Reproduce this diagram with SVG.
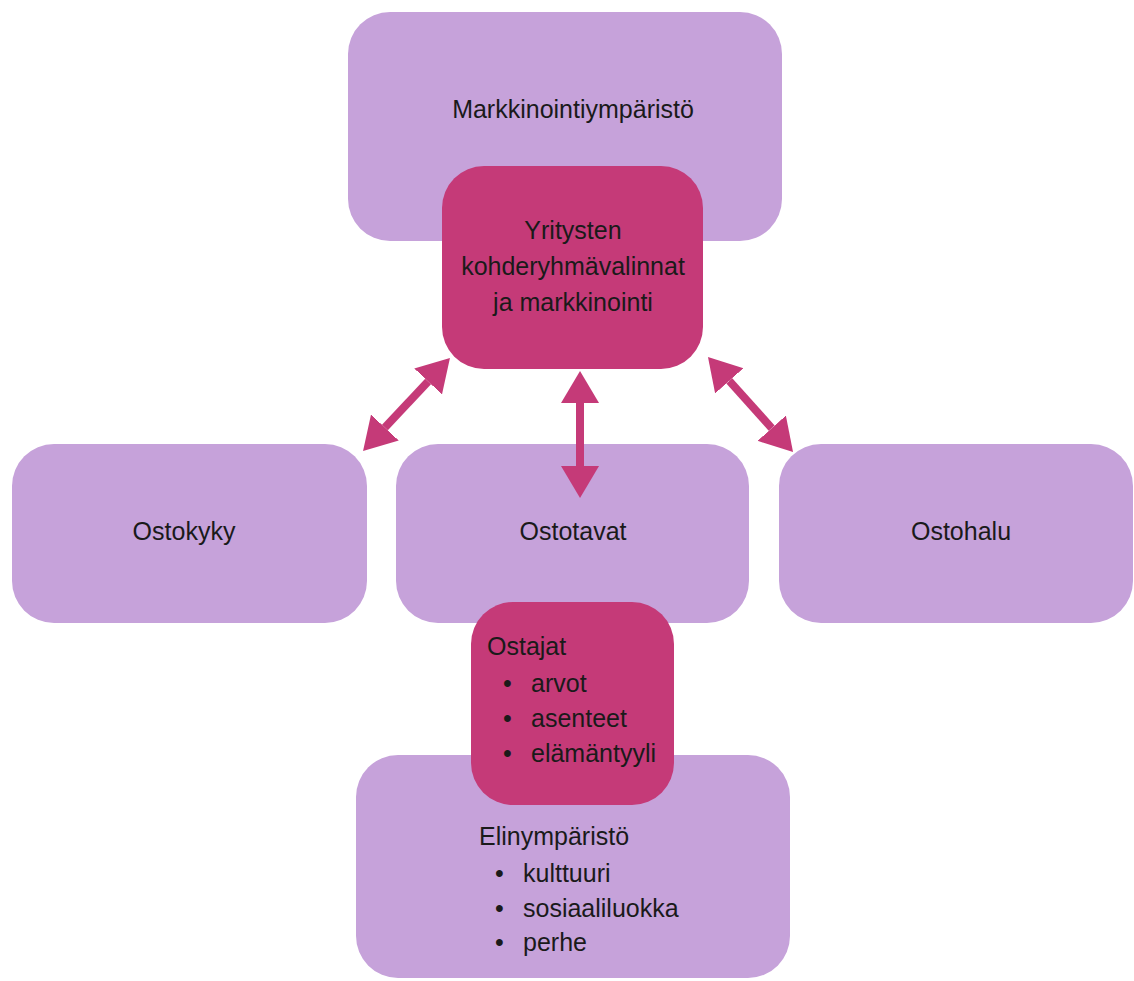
<svg xmlns="http://www.w3.org/2000/svg" width="1134" height="981" viewBox="0 0 1134 981">
<style>
.lt{fill:#C6A2DA;}
.dk{fill:#C53A78;}
text{font-family:"Liberation Sans",Arial,sans-serif;font-size:25px;fill:#1a1a1a;}
.c{text-anchor:middle;}
.conn line{stroke:#C53A78;stroke-width:8;}
</style>
<defs>
<marker id="ah" markerUnits="userSpaceOnUse" markerWidth="34" markerHeight="40" refX="0" refY="19" orient="auto-start-reverse" viewBox="0 0 34 40">
<path d="M0,0 L32,19 L0,38 z" fill="#C53A78"/>
</marker>
</defs>
<g id="markkinointiymparisto"><rect class="lt" x="348" y="12" width="434" height="229" rx="42"/><text class="c" x="573" y="118">Markkinointiympäristö</text></g>
<g id="ostokyky"><rect class="lt" x="12" y="444" width="355" height="179" rx="42"/><text class="c" x="184" y="540">Ostokyky</text></g>
<g id="ostotavat"><rect class="lt" x="396" y="444" width="353" height="179" rx="42"/><text class="c" x="573" y="540">Ostotavat</text></g>
<g id="ostohalu"><rect class="lt" x="779" y="444" width="354" height="179" rx="42"/><text class="c" x="961" y="540">Ostohalu</text></g>
<g id="elinymparisto"><rect class="lt" x="356" y="755" width="434" height="223" rx="42"/>
<text x="479" y="845">Elinympäristö</text>
<text x="495" y="882">•</text><text x="523" y="882">kulttuuri</text>
<text x="495" y="917">•</text><text x="523" y="917">sosiaaliluokka</text>
<text x="495" y="951">•</text><text x="523" y="951">perhe</text>
</g>
<g id="yritysten"><rect class="dk" x="442" y="166" width="261" height="203" rx="42"/>
<text class="c" x="573" y="239">Yritysten</text>
<text class="c" x="573" y="275">kohderyhmävalinnat</text>
<text class="c" x="573" y="311">ja markkinointi</text>
</g>
<g id="ostajat"><rect class="dk" x="471" y="602" width="203" height="203" rx="42"/>
<text x="487" y="655">Ostajat</text>
<text x="503" y="692">•</text><text x="531" y="692">arvot</text>
<text x="503" y="727">•</text><text x="531" y="727">asenteet</text>
<text x="503" y="762">•</text><text x="531" y="762">elämäntyyli</text>
</g>
<g id="connectors" class="conn">
<line x1="428.1" y1="381.4" x2="384.9" y2="427.6" marker-start="url(#ah)" marker-end="url(#ah)"/>
<line x1="580" y1="403" x2="580" y2="466" marker-start="url(#ah)" marker-end="url(#ah)"/>
<line x1="729.3" y1="380.8" x2="771.7" y2="428.2" marker-start="url(#ah)" marker-end="url(#ah)"/>
</g>
</svg>
